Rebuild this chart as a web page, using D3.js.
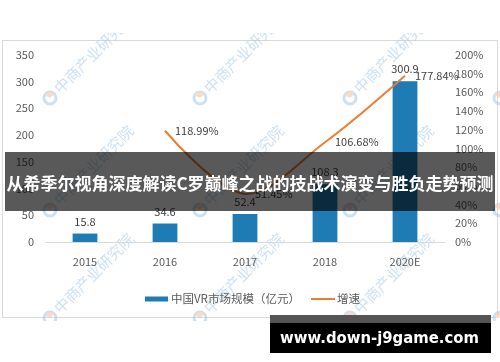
<!DOCTYPE html>
<html lang="zh">
<head>
<meta charset="UTF-8">
<title>中国VR市场规模</title>
<style>
  body { margin: 0; background: #fff; }
  svg text { font-family: 'Noto Sans CJK SC', 'Noto Sans', sans-serif; }
  .tick text { fill: #595959; font-size: 11px; }
</style>
</head>
<body>
<div id="chart"></div>
<script src="https://d3js.org/d3.v7.min.js"></script>
<script>
// data
var years = ["2015", "2016", "2017", "2018", "2020E"];
var marketSize = [15.8, 34.6, 52.4, 108.3, 300.9];   // 亿元
var growth = [null, 118.99, 51.45, 106.68, 177.84];  // %
var leftTicks = [0, 50, 100, 150, 200, 250, 300, 350];
var rightTicks = [0, 20, 40, 60, 80, 100, 120, 140, 160, 180, 200];
var seriesNames = ["中国VR市场规模（亿元）", "增速"];
var title = "从希季尔视角深度解读C罗巅峰之战的技战术演变与胜负走势预测";
var siteText = "www.down-j9game.com";
var markText = "中商产业研究院";

var W = 500, H = 362;
var blue = "#1f7bb3", orange = "#ed7d31";

var svg = d3.select("#chart").append("svg")
  .attr("width", W).attr("height", H);

// chart frame
svg.append("rect")
  .attr("x", 2.5).attr("y", 40.5).attr("width", 495).attr("height", 277)
  .attr("fill", "#fff").attr("stroke", "#d9d9d9");

// faint background watermark
svg.append("clipPath").attr("id", "wm")
  .append("rect").attr("x", 0).attr("y", 33).attr("width", W).attr("height", 288);
var wm = svg.append("g").attr("clip-path", "url(#wm)").attr("opacity", 0.6);
[98, 210, 318].forEach(function(ry) {
  [-100, 50, 200, 350, 500].forEach(function(cx) {
    var g = wm.append("g").attr("transform", "translate(" + cx + "," + ry + ") rotate(-45)");
    g.append("circle").attr("r", 6).attr("fill", "none").attr("stroke", "#a9cdea").attr("stroke-width", 3);
    g.append("path").attr("d", d3.arc()({innerRadius: 0, outerRadius: 6, startAngle: -0.3, endAngle: 1.6}))
      .attr("fill", "#f6c1a8");
    g.append("text").attr("x", 10).attr("y", 5)
      .attr("font-size", 15).attr("fill", "#a9cdea").text(markText);
  });
});

var x = d3.scaleBand().domain(years).range([45, 445])
  .paddingInner(0.69).paddingOuter(0.345);
var y = d3.scaleLinear().domain([0, 350]).range([242, 55]);
var y2 = d3.scaleLinear().domain([0, 200]).range([242, 55]);

// axes
svg.append("g").attr("transform", "translate(45,0)")
  .call(d3.axisLeft(y).tickValues(leftTicks).tickSize(0).tickPadding(11))
  .call(function(g) { g.select(".domain").remove(); });
svg.append("g").attr("transform", "translate(445,0)")
  .call(d3.axisRight(y2).tickValues(rightTicks).tickSize(0).tickPadding(10)
    .tickFormat(function(d) { return d + "%"; }))
  .call(function(g) { g.select(".domain").remove(); });
svg.append("g").attr("transform", "translate(0,242)")
  .call(d3.axisBottom(x).tickSize(0).tickPadding(16))
  .call(function(g) { g.select(".domain").attr("stroke", "#d9d9d9"); });

// bars
svg.selectAll(".bar").data(marketSize).join("rect")
  .attr("class", "bar")
  .attr("x", function(d, i) { return x(years[i]); })
  .attr("y", function(d) { return y(d); })
  .attr("width", x.bandwidth())
  .attr("height", function(d) { return y(0) - y(d); })
  .attr("fill", blue);

svg.selectAll(".blabel").data(marketSize).join("text")
  .attr("class", "blabel")
  .attr("x", function(d, i) { return x(years[i]) + x.bandwidth() / 2; })
  .attr("y", function(d) { return y(d) - 8; })
  .attr("text-anchor", "middle")
  .attr("font-size", 11).attr("fill", "#404040")
  .text(function(d) { return d; });

// growth line
var pts = growth.map(function(d, i) { return {v: d, c: years[i]}; })
  .filter(function(d) { return d.v != null; });
var line = d3.line()
  .x(function(d) { return x(d.c) + x.bandwidth() / 2; })
  .y(function(d) { return y2(d.v); })
  .curve(d3.curveCatmullRom.alpha(0.5));
svg.append("path").datum(pts)
  .attr("d", line).attr("fill", "none")
  .attr("stroke", orange).attr("stroke-width", 2);

svg.selectAll(".glabel").data(pts).join("text")
  .attr("class", "glabel")
  .attr("x", function(d) { return x(d.c) + x.bandwidth() / 2 + 10; })
  .attr("y", function(d) { return y2(d.v) + 4; })
  .attr("font-size", 11).attr("fill", "#404040")
  .text(function(d) { return d.v.toFixed(2) + "%"; });

// legend
var lg = svg.append("g").attr("transform", "translate(145,299)");
lg.append("rect").attr("x", 0).attr("y", -2.5).attr("width", 23).attr("height", 5).attr("fill", blue);
lg.append("text").attr("x", 26).attr("y", 4).attr("font-size", 11.5).attr("fill", "#595959").text(seriesNames[0]);
lg.append("line").attr("x1", 166).attr("x2", 190).attr("y1", 0).attr("y2", 0)
  .attr("stroke", orange).attr("stroke-width", 2);
lg.append("text").attr("x", 192).attr("y", 4).attr("font-size", 11.5).attr("fill", "#595959").text(seriesNames[1]);

// title overlay band
svg.append("rect").attr("x", 5).attr("y", 152).attr("width", 490).attr("height", 59)
  .attr("fill", "#000").attr("opacity", 0.65);
svg.append("text").attr("x", 250).attr("y", 190)
  .attr("text-anchor", "middle").attr("font-size", 17).attr("font-weight", "bold")
  .attr("fill", "#fff").text(title);

// site badge
svg.append("rect").attr("x", 270).attr("y", 315).attr("width", 221).attr("height", 38).attr("fill", "#000");
svg.append("rect").attr("x", 270).attr("y", 315).attr("width", 221).attr("height", 8).attr("fill", "#555");
svg.append("text").attr("x", 280).attr("y", 343)
  .attr("font-size", 15).attr("font-weight", "bold").attr("fill", "#fff")
  .attr("textLength", 199).attr("lengthAdjust", "spacingAndGlyphs")
  .style("font-family", "'DejaVu Sans', sans-serif")
  .text(siteText);
</script>
</body>
</html>
